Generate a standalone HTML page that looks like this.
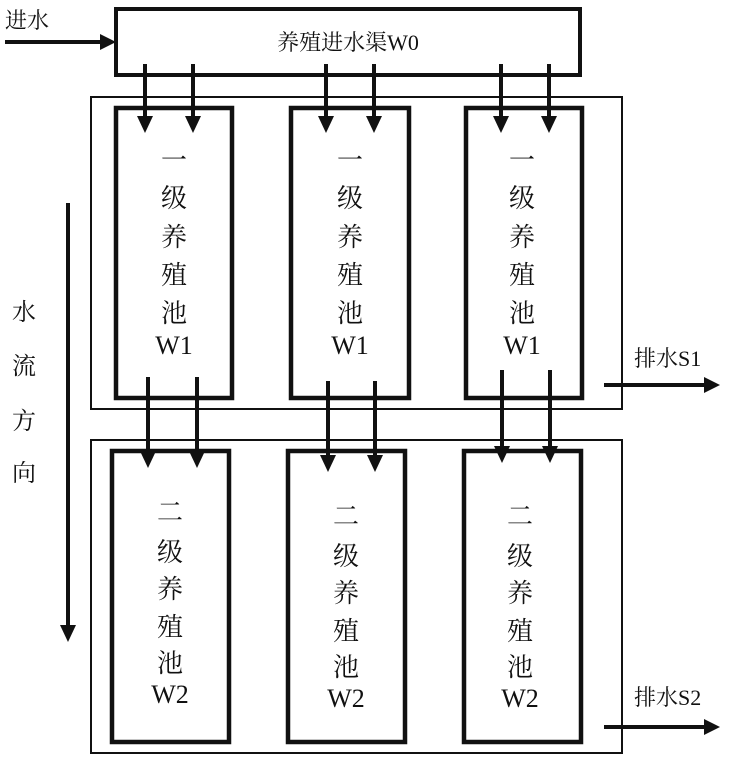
<!DOCTYPE html>
<html><head><meta charset="utf-8"><style>
html,body{margin:0;padding:0;background:#fff;}
text{font-family:"Liberation Serif","Noto Serif CJK SC",serif;fill:#111;}
</style></head><body>
<svg width="735" height="759" viewBox="0 0 735 759" xmlns="http://www.w3.org/2000/svg">
<g fill="none" stroke="#111">
<rect x="116" y="9" width="464" height="66" stroke-width="4"/>
<rect x="91" y="97" width="531" height="312" stroke-width="2"/>
<rect x="91" y="440" width="531" height="313" stroke-width="2"/>
<g stroke-width="4.5">
<rect x="116" y="108" width="116" height="290"/>
<rect x="291" y="108" width="118" height="290"/>
<rect x="466" y="108" width="116" height="290"/>
<rect x="112" y="451" width="117" height="291"/>
<rect x="288" y="451" width="117" height="291"/>
<rect x="464" y="451" width="117" height="291"/>
</g>
</g>
<g stroke="#111" stroke-width="4" fill="#111">
<line x1="5" y1="42" x2="104" y2="42"/><polygon points="116,42 100,34 100,50" stroke="none"/>
<line x1="604" y1="385" x2="708" y2="385"/><polygon points="720,385 704,377 704,393" stroke="none"/>
<line x1="604" y1="727" x2="708" y2="727"/><polygon points="720,727 704,719 704,735" stroke="none"/>
<line x1="68" y1="203" x2="68" y2="628"/><polygon points="68,642 60,625 76,625" stroke="none"/>
</g>
<g stroke="#111" stroke-width="4">
<line x1="145" y1="64" x2="145" y2="120"/><line x1="193" y1="64" x2="193" y2="120"/>
<line x1="326" y1="64" x2="326" y2="120"/><line x1="374" y1="64" x2="374" y2="120"/>
<line x1="501" y1="64" x2="501" y2="120"/><line x1="549" y1="64" x2="549" y2="120"/>
<line x1="148" y1="377" x2="148" y2="455"/><line x1="197" y1="377" x2="197" y2="455"/>
<line x1="328" y1="381" x2="328" y2="459"/><line x1="375" y1="381" x2="375" y2="459"/>
<line x1="502" y1="370" x2="502" y2="450"/><line x1="550" y1="370" x2="550" y2="450"/>
</g>
<g fill="#111">
<polygon points="145,133 137,116 153,116"/><polygon points="193,133 185,116 201,116"/>
<polygon points="326,133 318,116 334,116"/><polygon points="374,133 366,116 382,116"/>
<polygon points="501,133 493,116 509,116"/><polygon points="549,133 541,116 557,116"/>
<polygon points="148,468 140,451 156,451"/><polygon points="197,468 189,451 205,451"/>
<polygon points="328,472 320,455 336,455"/><polygon points="375,472 367,455 383,455"/>
<polygon points="502,463 494,446 510,446"/><polygon points="550,463 542,446 558,446"/>
</g>
<g font-size="22">
<text x="5" y="28">进水</text>
<text x="348" y="50" text-anchor="middle">养殖进水渠W0</text>
<text x="634" y="366">排水S1</text>
<text x="634" y="705">排水S2</text>
</g>
<g font-size="24" text-anchor="middle">
<text x="24" y="320">水</text><text x="24" y="374">流</text><text x="24" y="429">方</text><text x="24" y="481">向</text>
</g>
<g font-size="26" text-anchor="middle">
<g><text x="174" y="169">一</text><text x="174" y="207">级</text><text x="174" y="246">养</text><text x="174" y="284">殖</text><text x="174" y="322">池</text><text x="174" y="354">W1</text></g>
<g><text x="350" y="169">一</text><text x="350" y="207">级</text><text x="350" y="246">养</text><text x="350" y="284">殖</text><text x="350" y="322">池</text><text x="350" y="354">W1</text></g>
<g><text x="522" y="169">一</text><text x="522" y="207">级</text><text x="522" y="246">养</text><text x="522" y="284">殖</text><text x="522" y="322">池</text><text x="522" y="354">W1</text></g>
<g><text x="170" y="521">二</text><text x="170" y="561">级</text><text x="170" y="598">养</text><text x="170" y="636">殖</text><text x="170" y="672">池</text><text x="170" y="703">W2</text></g>
<g><text x="346" y="525">二</text><text x="346" y="565">级</text><text x="346" y="602">养</text><text x="346" y="640">殖</text><text x="346" y="676">池</text><text x="346" y="707">W2</text></g>
<g><text x="520" y="525">二</text><text x="520" y="565">级</text><text x="520" y="602">养</text><text x="520" y="640">殖</text><text x="520" y="676">池</text><text x="520" y="707">W2</text></g>
</g>
</svg>
</body></html>
